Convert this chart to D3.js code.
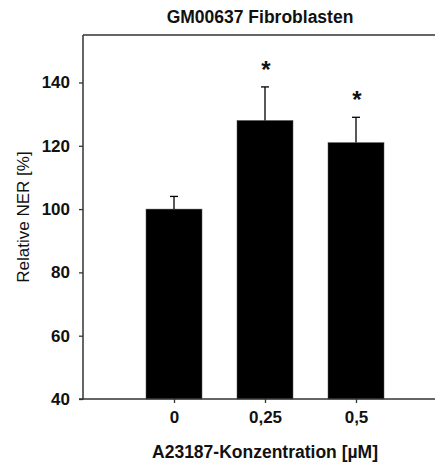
<!DOCTYPE html>
<html>
<head>
<meta charset="utf-8">
<script src="https://cdn.jsdelivr.net/npm/d3@7"></script>
<style>
  body { margin: 0; background: #fff; }
  svg text { font-family: "Liberation Sans", Arial, sans-serif; font-weight: bold; fill: #111; }
</style>
</head>
<body>
<div id="chart"></div>
<script>
// Data
var categories = ["0", "0,25", "0,5"];
var means = [100, 128, 121];
var errors = [4, 10.6, 8];
var marks = ["", "*", "*"];
var yTicks = [40, 60, 80, 100, 120, 140];

// Parameters
var width = 435;
var height = 463;
var plotLeft = 83;
var plotTop = 35;
var plotBottom = 399;
var barWidth = 56;

var svg = d3.select("#chart").append("svg")
    .attr("width", width)
    .attr("height", height);

var xScale = d3.scaleLinear().domain([0, 4]).range([plotLeft, plotLeft + 364]);
var yScale = d3.scaleLinear().domain([40, 155]).range([plotBottom, plotTop]);

// Title
svg.append("text")
    .attr("x", 260).attr("y", 23)
    .attr("text-anchor", "middle")
    .style("font-size", "17.5px")
    .text("GM00637 Fibroblasten");

// Bars
svg.selectAll("rect.bar").data(means).enter().append("rect")
    .attr("class", "bar")
    .attr("x", function(d, i){ return xScale(i + 1) - barWidth / 2; })
    .attr("y", function(d){ return yScale(d); })
    .attr("width", barWidth)
    .attr("height", function(d){ return yScale(40) - yScale(d); })
    .attr("fill", "#000")
    .attr("stroke", "#555")
    .attr("stroke-width", 0.5);

// Error bars (upper only)
var err = svg.selectAll("g.err").data(means).enter().append("g").attr("class", "err");
err.append("line")
    .attr("x1", function(d, i){ return xScale(i + 1); })
    .attr("x2", function(d, i){ return xScale(i + 1); })
    .attr("y1", function(d){ return yScale(d); })
    .attr("y2", function(d, i){ return yScale(d + errors[i]); })
    .attr("stroke", "#000").attr("stroke-width", 1.3);
err.append("line")
    .attr("x1", function(d, i){ return xScale(i + 1) - 4; })
    .attr("x2", function(d, i){ return xScale(i + 1) + 4; })
    .attr("y1", function(d, i){ return yScale(d + errors[i]); })
    .attr("y2", function(d, i){ return yScale(d + errors[i]); })
    .attr("stroke", "#000").attr("stroke-width", 1.3);

// Significance marks
svg.selectAll("text.sig").data(means).enter().append("text")
    .attr("class", "sig")
    .attr("x", function(d, i){ return xScale(i + 1) + 1; })
    .attr("y", function(d, i){ return yScale(d + errors[i]) - 9; })
    .attr("text-anchor", "middle")
    .style("font-size", "24px")
    .text(function(d, i){ return marks[i]; });

// Axes
var yAxis = d3.axisLeft(yScale).tickValues(yTicks).tickSize(4).tickPadding(9);
var gy = svg.append("g").attr("transform", "translate(" + plotLeft + ",0)").call(yAxis);
gy.select(".domain").remove();
gy.append("line").attr("x1", 0).attr("x2", 0).attr("y1", plotTop).attr("y2", plotBottom + 0.5)
    .attr("stroke", "#333").attr("stroke-width", 1.5);

var xAxis = d3.axisBottom(xScale).tickValues([1, 2, 3])
    .tickFormat(function(d){ return categories[d - 1]; })
    .tickSize(4).tickPadding(8);
var gx = svg.append("g").attr("transform", "translate(0," + plotBottom + ")").call(xAxis);
gx.select(".domain").remove();
gx.append("line").attr("x1", plotLeft - 4).attr("x2", width).attr("y1", 0).attr("y2", 0)
    .attr("stroke", "#333").attr("stroke-width", 1.5);

svg.append("line").attr("x1", plotLeft).attr("x2", width).attr("y1", plotTop).attr("y2", plotTop)
    .attr("stroke", "#333").attr("stroke-width", 1.5);

svg.selectAll(".tick line").attr("stroke", "#333").attr("stroke-width", 1.3);
svg.selectAll(".tick text").style("font-size", "17px").style("font-family", "Liberation Sans, Arial, sans-serif").attr("fill", "#111");

// Axis labels
svg.append("text")
    .attr("transform", "translate(29," + ((plotTop + plotBottom) / 2) + ")rotate(-90)")
    .attr("text-anchor", "middle")
    .style("font-size", "17px")
    .style("font-weight", "normal")
    .text("Relative NER [%]");

svg.append("text")
    .attr("x", 265).attr("y", 458)
    .attr("text-anchor", "middle")
    .style("font-size", "17.5px")
    .text("A23187-Konzentration [µM]");
</script>
</body>
</html>
